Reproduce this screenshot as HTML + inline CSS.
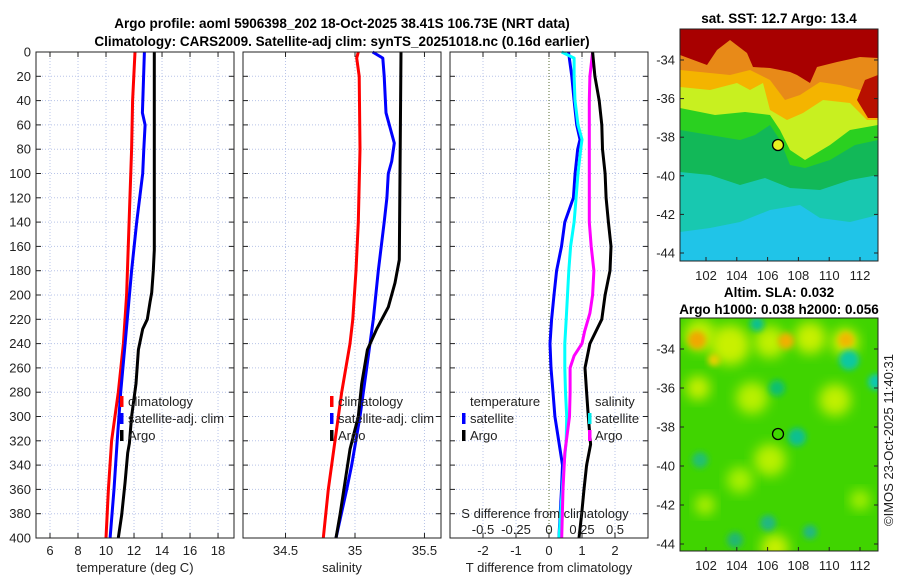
<!DOCTYPE html>
<html><head><meta charset="utf-8"><style>
html,body{margin:0;padding:0;background:#fff;}
svg{display:block;font-family:"Liberation Sans",sans-serif;}
</style></head><body>
<svg id="chart" width="900" height="580" viewBox="0 0 900 580">
<defs>
<filter id="blur6" x="-30%" y="-30%" width="160%" height="160%"><feGaussianBlur stdDeviation="6"/></filter>
<filter id="blur3" x="-30%" y="-30%" width="160%" height="160%"><feGaussianBlur stdDeviation="3"/></filter>
<clipPath id="clipM1"><rect x="680" y="29" width="198" height="232"/></clipPath>
<clipPath id="clipM2"><rect x="680" y="318" width="198" height="233"/></clipPath>
</defs>
<g font-weight="bold" font-size="13.5" text-anchor="middle" fill="#000">
<text x="342" y="28">Argo profile: aoml 5906398_202 18-Oct-2025 38.41S 106.73E (NRT data)</text>
<text x="342" y="46">Climatology: CARS2009. Satellite-adj clim: synTS_20251018.nc (0.16d earlier)</text>
<text x="779" y="23">sat. SST: 12.7 Argo: 13.4</text>
<text x="779" y="297">Altim. SLA: 0.032</text>
<text x="779" y="314">Argo h1000: 0.038 h2000: 0.056</text>
</g>
<g id="panels"></g>
<g id="maps"></g>
<text transform="translate(893,440) rotate(-90)" text-anchor="middle" font-size="13" fill="#222">©IMOS 23-Oct-2025 11:40:31</text>
</svg>
<script>
// ---- data ----
const depthTicks = [0,20,40,60,80,100,120,140,160,180,200,220,240,260,280,300,320,340,360,380,400];
const tTicks = [6,8,10,12,14,16,18];
const sTicks = [34.5,35,35.5];
const dTTicks = [-2,-1,0,1,2];
const dSTicks = [-0.5,-0.25,0,0.25,0.5];
const dSTickLabels = ["-0.5","-0.25","0","0.25","0.5"];

const tClimDepth = [0,40,80,200,240,280,320,360,400];
const tClimVal = [12.07,11.9,11.83,11.47,11.24,10.88,10.4,10.17,10.0];
const tSatDepth = [0,50,60,80,100,140,180,240,280,320,360,400];
const tSatVal = [12.74,12.6,12.79,12.7,12.62,12.19,11.83,11.36,11.05,10.8,10.57,10.29];
const tArgoDepth = [0,163,180,198,206,220,228,245,273,300,322,330,354,381,400];
const tArgoVal = [13.45,13.45,13.38,13.26,13.14,12.95,12.62,12.31,12.14,11.83,11.67,11.55,11.36,11.12,10.88];

const sClimDepth = [0,5,20,80,140,180,220,240,280,320,360,400];
const sClimVal = [35.024,35.012,35.03,35.036,35.024,35.007,34.984,34.964,34.904,34.856,34.808,34.772];
const sSatDepth = [0,5,20,50,75,90,100,120,140,180,220,260,300,340,360,400];
const sSatVal = [35.127,35.2,35.21,35.223,35.283,35.264,35.24,35.23,35.21,35.168,35.132,35.084,35.036,34.976,34.94,34.863];
const sArgoDepth = [0,171,190,210,228,245,273,300,327,354,381,400];
const sArgoVal = [35.331,35.319,35.288,35.24,35.156,35.089,35.048,35.024,34.964,34.928,34.892,34.863];

const dTSatDepth = [0,20,40,60,72,80,100,120,140,160,180,200,220,240,260,280,300,340,360,400];
const dTSatVal = [0.59,0.69,0.76,0.84,0.94,0.87,0.79,0.74,0.48,0.38,0.23,0.15,0.08,0.03,0.06,0.12,0.18,0.41,0.38,0.3];
const dTArgoDepth = [0,20,40,60,80,100,120,140,160,180,200,220,240,260,280,300,323,340,360,380,400];
const dTArgoVal = [1.32,1.39,1.52,1.6,1.62,1.7,1.73,1.8,1.88,1.85,1.7,1.6,1.24,1.09,1.14,1.19,1.26,1.14,1.06,0.99,0.91];
const dSSatDepth = [0,5,20,40,60,72,80,100,120,140,160,180,200,220,240,260,280,300,320,340,400];
const dSSatVal = [0.096,0.19,0.19,0.197,0.22,0.25,0.24,0.22,0.205,0.19,0.164,0.15,0.14,0.13,0.12,0.12,0.125,0.134,0.13,0.114,0.076];
const dSArgoDepth = [0,20,40,140,160,180,200,215,230,240,250,260,280,300,330,360,400];
const dSArgoVal = [0.33,0.31,0.305,0.305,0.32,0.34,0.33,0.31,0.27,0.25,0.19,0.16,0.16,0.155,0.12,0.106,0.096];

// ---- helpers ----
const NS = "http://www.w3.org/2000/svg";
const root = document.getElementById('panels');
function mk(tag, attrs, parent){
  const e = document.createElementNS(NS, tag);
  for (const k in attrs) e.setAttribute(k, attrs[k]);
  (parent||root).appendChild(e);
  return e;
}
const Y0 = 52, Y1 = 538;
function yScale(d){ return Y0 + d/400*(Y1-Y0); }
function linScale(x0,x1,v0,v1){ return v => x0 + (v-v0)/(v1-v0)*(x1-x0); }

function drawPanel(x0, x1, name){
  const g = mk('g', {});
  
  
  return g;
}
function hgrid(g, x0, x1, withLabels){
  depthTicks.forEach(d => {
    const y = yScale(d);
    const l = mk('line', {x1:x0, x2:x1, y1:y, y2:y, stroke:'#b8c4e8', 'stroke-width':1, 'stroke-dasharray':'1,2'}, g);
    
    
    mk('line', {x1:x0, x2:x0+5, y1:y, y2:y, stroke:'#222'}, g);
    mk('line', {x1:x1-5, x2:x1, y1:y, y2:y, stroke:'#222'}, g);
    if (withLabels){
      const t = mk('text', {x:x0-5, y:y+4.5, 'text-anchor':'end', 'font-size':13, fill:'#222'}, g);
      t.textContent = d;
      
      
    }
  });
}
function vgrid(g, ticks, sx, labels, ly, dottedZero){
  ticks.forEach((v,i) => {
    const x = sx(v);
    const l = mk('line', {x1:x, x2:x, y1:Y0, y2:Y1, stroke:(dottedZero && v===0)?'#556b2f':'#b8c4e8', 'stroke-width':1, 'stroke-dasharray':'1,2'}, g);
    
    
    mk('line', {x1:x, x2:x, y1:Y1, y2:Y1-5, stroke:'#222'}, g);
    mk('line', {x1:x, x2:x, y1:Y0, y2:Y0+5, stroke:'#222'}, g);
    if (labels){
      const t = mk('text', {x:x, y:ly, 'text-anchor':'middle', 'font-size':13, fill:'#222'}, g);
      t.textContent = labels[i];
      
      
    }
  });
}
function series(g, depths, vals, sx, color, name){
  const pts = depths.map((d,i) => sx(vals[i]).toFixed(1)+','+yScale(d).toFixed(1)).join(' ');
  const p = mk('polyline', {points:pts, fill:'none', stroke:color, 'stroke-width':3, 'stroke-linejoin':'round'}, g);
  
  
}
function frame(g, x0, x1){
  mk('rect', {x:x0, y:Y0, width:x1-x0, height:Y1-Y0, fill:'none', stroke:'#222', 'stroke-width':1}, g);
}
function label(g, x, y, txt, name, anchor, size){
  const t = mk('text', {x:x, y:y, 'text-anchor':anchor||'start', 'font-size':size||13, fill:'#222'}, g);
  t.textContent = txt;
  
  
  return t;
}
function legBar(g, x, y, color){
  mk('rect', {x:x, y:y-10, width:3.5, height:11, fill:color}, g);
}

// ---- panel 1: temperature ----
{
  const x0=36, x1=234;
  const sx = linScale(x0,x1,5.0,19.14);
  const g = drawPanel(x0,x1,'temperature-panel');
  hgrid(g,x0,x1,true);
  vgrid(g,tTicks,sx,tTicks,555,false);
  series(g,tClimDepth,tClimVal,sx,'#ff0000','temp-climatology-line');
  series(g,tSatDepth,tSatVal,sx,'#0000ff','temp-satellite-line');
  series(g,tArgoDepth,tArgoVal,sx,'#000000','temp-argo-line');
  frame(g,x0,x1);
  legBar(g,120,406,'#ff0000'); label(g,128,406,'climatology','legend-climatology');
  legBar(g,120,423,'#0000ff'); label(g,128,423,'satellite-adj. clim','legend-satellite-adj');
  legBar(g,120,440,'#000'); label(g,128,440,'Argo','legend-argo');
  label(g,135,572,'temperature (deg C)','x-axis-title-temperature','middle');
}
// ---- panel 2: salinity ----
{
  const x0=243, x1=441;
  const sx = linScale(x0,x1,34.194,35.619);
  const g = drawPanel(x0,x1,'salinity-panel');
  hgrid(g,x0,x1,false);
  vgrid(g,sTicks,sx,sTicks,555,false);
  series(g,sClimDepth,sClimVal,sx,'#ff0000','sal-climatology-line');
  series(g,sSatDepth,sSatVal,sx,'#0000ff','sal-satellite-line');
  series(g,sArgoDepth,sArgoVal,sx,'#000000','sal-argo-line');
  frame(g,x0,x1);
  legBar(g,330,406,'#ff0000'); label(g,338,406,'climatology','legend-climatology');
  legBar(g,330,423,'#0000ff'); label(g,338,423,'satellite-adj. clim','legend-satellite-adj');
  legBar(g,330,440,'#000'); label(g,338,440,'Argo','legend-argo');
  label(g,342,572,'salinity','x-axis-title-salinity','middle');
}
// ---- panel 3: differences ----
{
  const x0=450, x1=648;
  const sxT = linScale(x0,x1,-3,3);
  const sxS = linScale(x0,x1,-0.75,0.75);
  const g = drawPanel(x0,x1,'difference-panel');
  hgrid(g,x0,x1,false);
  vgrid(g,dTTicks,sxT,dTTicks,555,true);
  series(g,dTSatDepth,dTSatVal,sxT,'#0000ff','dT-satellite-line');
  series(g,dSSatDepth,dSSatVal,sxS,'#00ffff','dS-satellite-line');
  series(g,dSArgoDepth,dSArgoVal,sxS,'#ff00ff','dS-argo-line');
  series(g,dTArgoDepth,dTArgoVal,sxT,'#000000','dT-argo-line');
  frame(g,x0,x1);
  label(g,470,406,'temperature','legend-temperature-heading');
  legBar(g,462,423,'#0000ff'); label(g,470,423,'satellite','legend-temp-satellite');
  legBar(g,462,440,'#000'); label(g,470,440,'Argo','legend-temp-argo');
  label(g,595,406,'salinity','legend-salinity-heading');
  legBar(g,588,423,'#00e8e8'); label(g,595,423,'satellite','legend-sal-satellite');
  legBar(g,588,440,'#ff00ff'); label(g,595,440,'Argo','legend-sal-argo');
  label(g,545,518,'S difference from climatology','s-axis-title','middle');
  dSTicks.forEach((v,i)=>{ label(g,sxS(v),534,dSTickLabels[i],'s-tick-label','middle'); });
  label(g,549,572,'T difference from climatology','x-axis-title-tdiff','middle');
}

// ---- maps ----
const mroot = document.getElementById('maps');
function mm(tag, attrs, parent){
  const e = document.createElementNS(NS, tag);
  for (const k in attrs) e.setAttribute(k, attrs[k]);
  (parent||mroot).appendChild(e);
  return e;
}
const latTicks = [-34,-36,-38,-40,-42,-44];
const lonTicks = [102,104,106,108,110,112];
function mapAxes(g, x0, y34, y44, bottom){
  const lonX = v => 706 + (v-102)*15.4;
  const latY = v => y34 + (v+34)/(-10)*(y44-y34);
  latTicks.forEach(v=>{
    const y = latY(v);
    mm('line',{x1:x0,x2:x0+4,y1:y,y2:y,stroke:'#222'},g);
    mm('line',{x1:878,x2:874,y1:y,y2:y,stroke:'#222'},g);
    const t = mm('text',{x:x0-5,y:y+4.5,'text-anchor':'end','font-size':13,fill:'#222'},g);
    t.textContent = v;
    
    
  });
  lonTicks.forEach(v=>{
    const x = lonX(v);
    mm('line',{x1:x,x2:x,y1:bottom,y2:bottom-4,stroke:'#222'},g);
    const t = mm('text',{x:x,y:bottom+19,'text-anchor':'middle','font-size':13,fill:'#222'},g);
    t.textContent = v;
    
    
  });
}
// SST map
{
  const g = mm('g',{'clip-path':'url(#clipM1)'});
  
  
  mm('rect',{x:680,y:29,width:198,height:232,fill:'#20c4e8'},g);
  mm('path',{d:'M680,29 H878 V215 L850,222 L820,218 L800,205 L770,210 L740,222 L710,228 L680,232 Z',fill:'#18c8b0'},g);
  mm('path',{d:'M680,29 H878 V175 L850,180 L820,190 L790,188 L765,178 L740,185 L710,175 L680,172 Z',fill:'#12b858'},g);
  mm('path',{d:'M680,29 H878 V140 L855,145 L830,160 L805,168 L790,165 L780,140 L770,125 L755,135 L740,140 L710,135 L680,130 Z',fill:'#2ad020'},g);
  mm('path',{d:'M680,29 H878 V125 L850,130 L830,145 L805,160 L790,150 L780,130 L770,115 L745,112 L715,115 L680,108 Z',fill:'#c8f020'},g);
  mm('path',{d:'M680,29 H878 V120 L867,120 L850,103 L823,100 L803,113 L787,120 L770,110 L763,83 L750,90 L737,83 L710,90 L680,87 Z',fill:'#f4b400'},g);
  mm('path',{d:'M680,29 H878 V95 L860,90 L840,85 L820,82 L800,95 L785,100 L770,80 L750,70 L730,75 L700,72 L680,70 Z',fill:'#e88a18'},g);
  mm('path',{d:'M680,29 H878 V58 L860,57 L837,62 L817,67 L810,83 L797,75 L790,72 L770,68 L753,67 L747,53 L730,40 L717,50 L707,65 L680,55 Z',fill:'#a80000'},g);
  mm('path',{d:'M878,75 L865,80 L857,100 L868,118 L878,118 Z',fill:'#b81000'},g);
  mm('circle',{cx:778,cy:145,r:5.5,fill:'#e8f020',stroke:'#000','stroke-width':1.3},g);
  mm('rect',{x:680,y:29,width:198,height:232,fill:'none',stroke:'#222'});
  mapAxes(mroot,680,60,253,261);
}
// SLA map
{
  const g = mm('g',{'clip-path':'url(#clipM2)'});
  
  
  mm('rect',{x:680,y:318,width:198,height:233,fill:'#40d400'},g);
  const blobs = [[700,335,16,'#c0f000'],[730,345,20,'#c8f000'],[770,342,16,'#c0f000'],[810,338,16,'#c8f000'],[845,342,14,'#c8f000'],
    [698,388,12,'#c8f000'],[752,398,16,'#b8f000'],[835,400,16,'#c0f000'],
    [770,460,16,'#b8f000'],[740,480,13,'#a8f000'],[705,505,10,'#b0f000'],[860,500,10,'#a8f000'],[775,548,14,'#c8f000']];
  blobs.forEach(b=>mm('circle',{cx:b[0],cy:b[1],r:b[2],fill:b[3],filter:'url(#blur6)'},g));
  const warm = [[697,340,9,'#f0a800'],[786,341,8,'#f0b000'],[846,340,8,'#f0b800'],[714,360,6,'#e8d000']];
  warm.forEach(b=>mm('circle',{cx:b[0],cy:b[1],r:b[2],fill:b[3],filter:'url(#blur3)'},g));
  const cool = [[849,360,10,'#10c8a0'],[876,382,8,'#10c8b0'],[777,388,8,'#10c070'],[797,437,9,'#10c090'],[757,324,7,'#10c090'],
    [700,460,8,'#20c070'],[768,523,8,'#20b880'],[810,532,7,'#20b880'],[735,540,8,'#20b870']];
  cool.forEach(b=>mm('circle',{cx:b[0],cy:b[1],r:b[2],fill:b[3],filter:'url(#blur3)'},g));
  mm('circle',{cx:778,cy:434,r:5.5,fill:'#40d800',stroke:'#000','stroke-width':1.3},g);
  mm('rect',{x:680,y:318,width:198,height:233,fill:'none',stroke:'#222'});
  mapAxes(mroot,680,349,544,551);
}
</script>
</body></html>
